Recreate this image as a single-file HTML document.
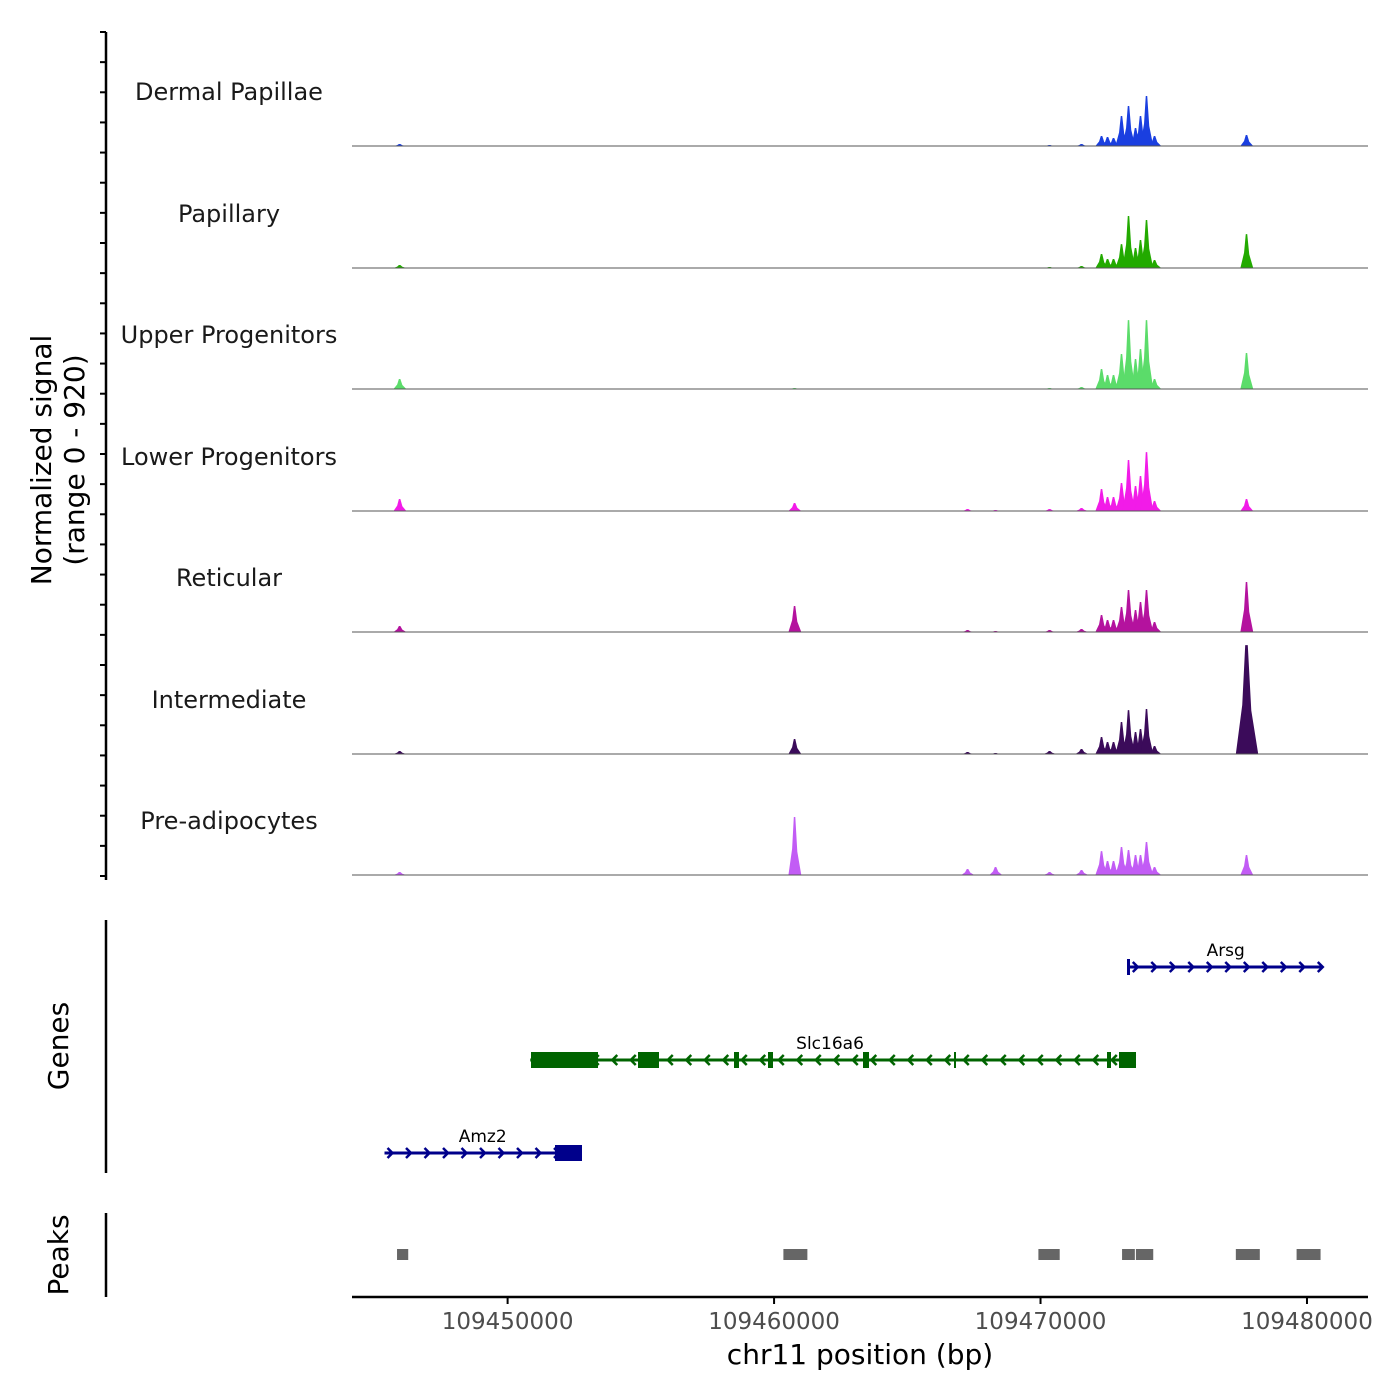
<!DOCTYPE html>
<html><head><meta charset="utf-8"><style>
body{margin:0;background:#fff}
svg{display:block;font-family:"DejaVu Sans","Liberation Sans",sans-serif}
</style></head><body>
<svg id="chart" width="1400" height="1400" viewBox="0 0 1400 1400"></svg>
<script>
const positions=[109445947,109460769,109467261,109468311,109470338,109471538,109472289,109472514,109472739,109473039,109473302,109473565,109473752,109473977,109474278,109477730];
const trackNames=["Dermal Papillae","Papillary","Upper Progenitors","Lower Progenitors","Reticular","Intermediate","Pre-adipocytes"];
const trackColors=["#1a3fe0","#22aa00","#5bdc6a","#f21be8","#b4129e","#3b0b5a","#c25cf5"];
const dermal=[15,0,0,0,8,15,76,68,61,228,304,137,228,380,76,84];
const papillary=[23,0,0,0,8,15,106,68,68,182,395,152,213,365,61,258];
const upper=[76,8,0,0,8,15,152,106,106,266,524,228,304,524,76,274];
const lower=[91,61,15,8,15,23,167,106,106,213,388,190,266,448,76,91];
const reticular=[46,198,15,8,15,23,129,91,91,190,319,167,228,319,76,380];
const intermediate=[23,114,15,8,23,38,129,91,91,243,334,167,190,342,61,828];
const preadipo=[23,441,46,61,23,38,182,106,106,213,190,152,152,251,61,152];
const xTicks=[109450000,109460000,109470000,109480000];
const peakStarts=[109445850,109460350,109469920,109473060,109473580,109477330,109479610];
const peakEnds=[109446270,109461250,109470720,109473540,109474230,109478230,109480510];
const geneNames=["Arsg","Slc16a6","Amz2"];
const geneStarts=[109473350,109450850,109445380];
const geneEnds=[109480550,109473350,109452750];
const geneStrand=["+","-","+"];

const svg=document.getElementById('chart');
const NS="http://www.w3.org/2000/svg";
const X0=352,X1=1368,BP0=109444160,BP1=109482290;
const xs=bp=>X0+(bp-BP0)/(BP1-BP0)*(X1-X0);
const ys=(v,base)=>base-v/920*121;
function mk(t,a,p){const e=document.createElementNS(NS,t);for(const k in a)e.setAttribute(k,a[k]);(p||svg).appendChild(e);return e;}
const series=[dermal,papillary,upper,lower,reticular,intermediate,preadipo];
const baselines=[146,268,389,511,632,754,875];
series.forEach((vals,i)=>{
  const base=baselines[i];
  const g=mk('g',{});
  
  
  positions.forEach((p,j)=>{
    const v=vals[j];
    const hw=(v>600?400:230);
    const d=`M${xs(p-hw)},${base} L${xs(p-hw*0.4)},${ys(v*0.45,base)} L${xs(p-hw*0.12)},${ys(v,base)} L${xs(p+hw*0.12)},${ys(v,base)} L${xs(p+hw*0.45)},${ys(v*0.4,base)} L${xs(p+hw*1.1)},${base} Z`;
    mk('path',{d:d,fill:trackColors[i]},g);
  });
  const l=mk('line',{x1:X0,x2:X1,y1:base,y2:base,stroke:'#555','stroke-width':1});
  
  
  const t=mk('text',{x:229,y:base-46,'text-anchor':'middle','font-size':24,fill:'#1a1a1a'});
  t.textContent=trackNames[i];
  
  
});
mk('line',{x1:106,x2:106,y1:32,y2:880,stroke:'#000','stroke-width':2.5});
for(let k=0;k<29;k++){const y=32+k*(876-32)/28;mk('line',{x1:100,x2:106,y1:y,y2:y,stroke:'#000','stroke-width':2});}
const yt=mk('text',{transform:'translate(51,460) rotate(-90)','text-anchor':'middle','font-size':28});


yt.innerHTML='<tspan x="0" dy="0">Normalized signal</tspan><tspan x="0" dy="33">(range 0 - 920)</tspan>';
mk('line',{x1:106,x2:106,y1:920,y2:1173,stroke:'#000','stroke-width':2.5});
const gt=mk('text',{transform:'translate(68,1046) rotate(-90)','text-anchor':'middle','font-size':28});gt.textContent='Genes';


mk('line',{x1:106,x2:106,y1:1213,y2:1297,stroke:'#000','stroke-width':2.5});
const pt=mk('text',{transform:'translate(68,1255) rotate(-90)','text-anchor':'middle','font-size':28});pt.textContent='Peaks';


const gy=[967,1060,1153],gc=["#00008B","#006400","#00008B"];
geneNames.forEach((n,i)=>{
  const a=xs(geneStarts[i]),b=xs(geneEnds[i]),y=gy[i];
  const g=mk('line',{x1:a,x2:b,y1:y,y2:y,stroke:gc[i],'stroke-width':3});
  
  
  for(let x=a+8;x<b+2;x+=18.5){
    const dx=geneStrand[i]=='+'?5:-5;
    mk('polyline',{points:`${x-dx},${y-5} ${x},${y} ${x-dx},${y+5}`,fill:'none',stroke:gc[i],'stroke-width':2.5});
  }
  const t=mk('text',{x:(a+b)/2,y:y-11,'text-anchor':'middle','font-size':17});t.textContent=n;
  
  
});
[[531,598,8],[638,659,8],[734,739,8],[768,773,8],[863,869,8],[954,956,8],[1107,1111,8],[1119,1136,8]].forEach(e=>mk('rect',{x:e[0],y:1060-e[2],width:e[1]-e[0],height:e[2]*2,fill:'#006400'}));
mk('rect',{x:555,y:1145,width:27,height:16,fill:'#00008B'});
mk('rect',{x:1127,y:959,width:3,height:16,fill:'#00008B'});
peakStarts.forEach((s,i)=>{
  const r=mk('rect',{x:xs(s),y:1249,width:xs(peakEnds[i])-xs(s),height:11,fill:'#666'});
  
  
});
mk('line',{x1:X0,x2:X1,y1:1297,y2:1297,stroke:'#000','stroke-width':2.5});
xTicks.forEach(v=>{
  const x=xs(v);
  mk('line',{x1:x,x2:x,y1:1297,y2:1304,stroke:'#000','stroke-width':2});
  const t=mk('text',{x:x,y:1329,'text-anchor':'middle','font-size':23,fill:'#4d4d4d'});t.textContent=v;
  
  
});
const xt=mk('text',{x:860,y:1364,'text-anchor':'middle','font-size':28});xt.textContent='chr11 position (bp)';


</script>
</body></html>
